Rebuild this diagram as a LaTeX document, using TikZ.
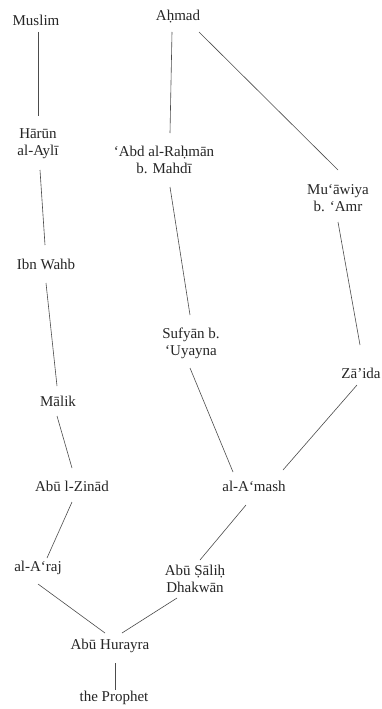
\documentclass[tikz,border=0pt]{standalone}
\usepackage{fontspec}
\setmainfont{Liberation Serif}
\begin{document}
\begin{tikzpicture}[x=1pt,y=-1pt,
  nm/.style={font=\fontsize{15}{17}\selectfont, text=black!85, inner sep=0pt, align=center},
  ln/.style={draw=black!70, line width=0.6pt}]
\useasboundingbox[fill=white] (0,0) rectangle (382,709);
\node[nm] (muslim) at (36,20) {Muslim};
\node[nm] (ahmad) at (178,17) {Aḥmad};
\node[nm] (harun) at (38,144) {Hārūn\\al-Aylī};
\node[nm] (abd) at (164,160) {‘Abd al-Raḥmān\\b. Mahdī};
\node[nm] (muawiya) at (338,198) {Mu‘āwiya\\b. ‘Amr};
\node[nm] (ibnwahb) at (46,264) {Ibn Wahb};
\node[nm] (sufyan) at (191,343) {Sufyān b.\\‘Uyayna};
\node[nm] (zaida) at (361,373) {Zā’ida};
\node[nm] (malik) at (58,401) {Mālik};
\node[nm] (zinad) at (72,486) {Abū l-Zinād};
\node[nm] (amash) at (254,486) {al-A‘mash};
\node[nm] (araj) at (38,568) {al-A‘raj};
\node[nm] (salih) at (195,579) {Abū Ṣāliḥ\\Dhakwān};
\node[nm] (hurayra) at (110,646) {Abū Hurayra};
\node[nm] (prophet) at (114,698) {the Prophet};
\draw[ln] ([shift={(2,12)}]muslim.center) -- ([shift={(0,-28)}]harun.center);
\draw[ln] ([shift={(-6,15)}]ahmad.center) -- ([shift={(6,-27)}]abd.center);
\draw[ln] ([shift={(21,15)}]ahmad.center) -- ([shift={(0,-28)}]muawiya.center);
\draw[ln] ([shift={(2,26)}]harun.center) -- ([shift={(-1,-19)}]ibnwahb.center);
\draw[ln] ([shift={(6,27)}]abd.center) -- ([shift={(-1,-28)}]sufyan.center);
\draw[ln] ([shift={(0,24)}]muawiya.center) -- ([shift={(-1,-28)}]zaida.center);
\draw[ln] ([shift={(0,19)}]ibnwahb.center) -- ([shift={(-1,-15)}]malik.center);
\draw[ln] ([shift={(-1,15)}]malik.center) -- ([shift={(0,-18)}]zinad.center);
\draw[ln] ([shift={(-1,25)}]sufyan.center) -- ([shift={(-21,-14)}]amash.center);
\draw[ln] ([shift={(-4,12)}]zaida.center) -- ([shift={(29,-16)}]amash.center);
\draw[ln] ([shift={(0,16)}]zinad.center) -- ([shift={(9,-10)}]araj.center);
\draw[ln] ([shift={(-8,19)}]amash.center) -- ([shift={(5,-19)}]salih.center);
\draw[ln] ([shift={(0,16)}]araj.center) -- ([shift={(-5,-13)}]hurayra.center);
\draw[ln] ([shift={(-18,19)}]salih.center) -- ([shift={(12,-13)}]hurayra.center);
\draw[ln] ([shift={(5,17)}]hurayra.center) -- ([shift={(1,-8)}]prophet.center);
\end{tikzpicture}
\end{document}
